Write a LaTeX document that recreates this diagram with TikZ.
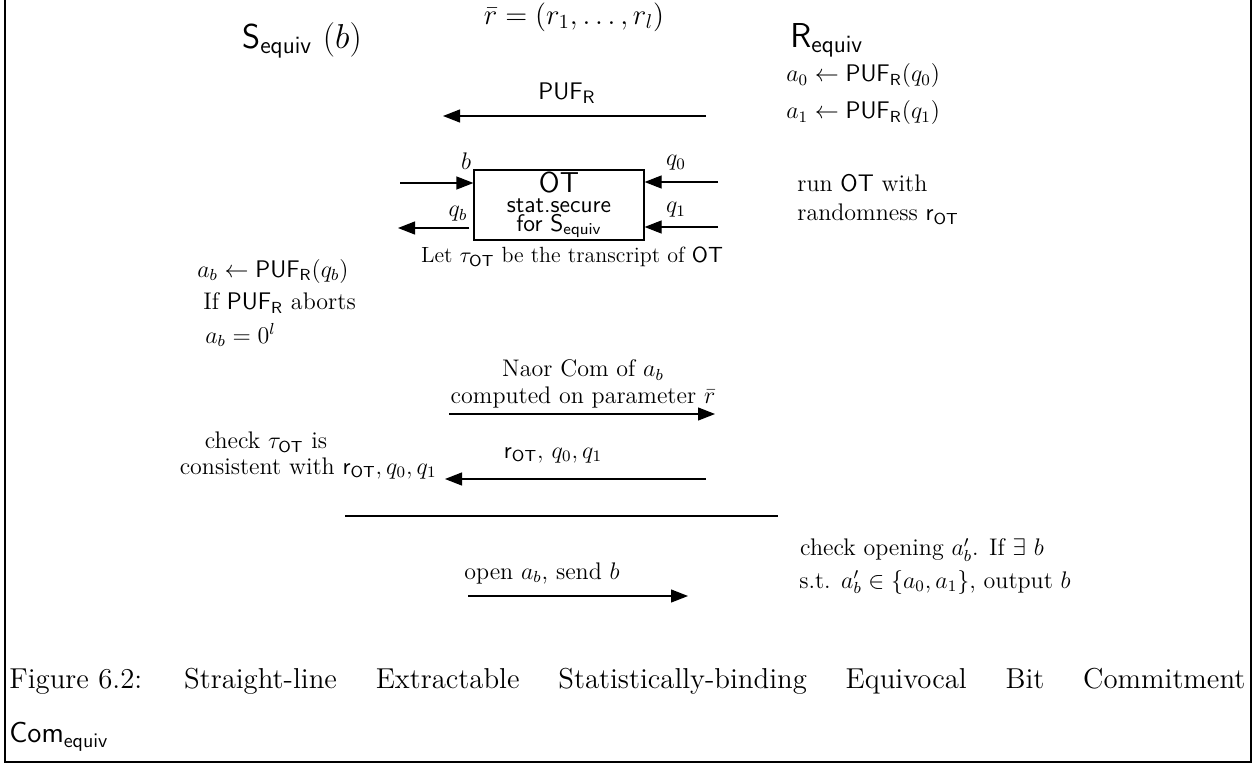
\documentclass[tikz,border=0pt,12pt]{standalone}
\usetikzlibrary{arrows.meta}
\begin{document}
\begin{tikzpicture}[x=0.5pt,y=-0.5pt,
  lbl/.style={inner sep=0pt},
  msg/.style={line width=0.6pt,-{Triangle[length=8.5pt,width=6.5pt]}},
  plain/.style={line width=0.6pt},
  frame/.style={line width=0.8pt}]
\useasboundingbox (0,0) rectangle (1257,765);
% frame
\draw[frame] (5,0) -- (5,762) -- (1251,762) -- (1251,0);
% headers
\node[lbl] (rbar) at (574,17) {\large$\bar r=(r_1,\dots,r_l)$};
\node[lbl] (S) at (302,40) {\Large$\mathsf{S}_{\mathsf{equiv}}~(b)$};
\node[lbl,anchor=west] (R) at (790,40) {\Large$\mathsf{R}_{\mathsf{equiv}}$};
\node[lbl,anchor=west] (a0) at (786,76) {$a_0 \leftarrow \mathsf{PUF}_{\mathsf{R}}(q_0)$};
\node[lbl,anchor=west] (a1) at (786,113) {$a_1 \leftarrow \mathsf{PUF}_{\mathsf{R}}(q_1)$};
% PUF arrow
\node[lbl] (puflbl) at (567,93) {\fontsize{13}{15}\selectfont$\mathsf{PUF}_{\mathsf{R}}$};
\coordinate (pufR) at (706,116);
\coordinate (pufL) at (443,116);
\draw[msg] (pufR) -- (pufL);
% OT box
\node[draw,line width=0.6pt,minimum width=85pt,minimum height=35pt,inner sep=0pt] (ot) at (559,205) {};
\node[lbl,anchor=base] (otT) at (559,192) {\large$\mathsf{OT}$};
\node[lbl,anchor=base] (otS) at (559,212) {\sffamily stat.secure};
\node[lbl,anchor=base] (otF) at (559,231) {\sffamily for $\mathsf{S}_{\mathsf{equiv}}$};
\coordinate (bin) at (400,183);
\coordinate (qbout) at (398,228);
\coordinate (q0in) at (718,182);
\coordinate (q1in) at (718,227);
\draw[msg] (bin) -- (ot.west |- bin);
\draw[msg] (ot.west |- qbout) ++(-4,0) -- (qbout);
\draw[msg] (q0in) -- (ot.east |- q0in);
\draw[msg] (q1in) -- (ot.east |- q1in);
\node[lbl] (blbl) at (466,161) {$b$};
\node[lbl] (qblbl) at (458,214) {$q_b$};
\node[lbl] (q0lbl) at (676,163) {$q_0$};
\node[lbl] (q1lbl) at (676,210) {$q_1$};
\node[lbl,anchor=west] (run1) at (797,183) {run $\mathsf{OT}$ with};
\node[lbl,anchor=west] (run2) at (797,214) {randomness $\mathsf{r}_{\mathsf{OT}}$};
\node[lbl] (tau) at (572,257) {\fontsize{11}{13}\selectfont Let $\tau_{\mathsf{OT}}$ be the transcript of $\mathsf{OT}$};
% a_b block
\node[lbl,anchor=west] (ab1) at (197,271) {$a_b \leftarrow \mathsf{PUF}_{\mathsf{R}}(q_b)$};
\node[lbl,anchor=west] (ab2) at (203,303) {If $\mathsf{PUF}_{\mathsf{R}}$ aborts};
\node[lbl,anchor=west] (ab3) at (205,335) {$a_b = 0^l$};
% Naor commitment
\node[lbl] (naor1) at (583,370) {Naor Com of $a_b$};
\node[lbl] (naor2) at (583,397) {computed on parameter $\bar r$};
\coordinate (naorL) at (449,414);
\coordinate (naorR) at (715,414);
\draw[msg] (naorL) -- (naorR);
% r_OT message
\node[lbl] (chk1) at (266,442) {check $\tau_{\mathsf{OT}}$ is};
\node[lbl,anchor=east] (chk2) at (437,468) {consistent with $\mathsf{r}_{\mathsf{OT}}, q_0, q_1$};
\node[lbl] (rotlbl) at (553,455) {$\mathsf{r}_{\mathsf{OT}},\, q_0, q_1$};
\coordinate (rotR) at (706,479);
\coordinate (rotL) at (445,479);
\draw[msg] (rotR) -- (rotL);
% separator
\coordinate (sepL) at (345,516);
\coordinate (sepR) at (778,516);
\draw[plain] (sepL) -- (sepR);
% opening
\node[lbl] (openlbl) at (542,573) {open $a_b$, send $b$};
\coordinate (openL) at (468,596);
\coordinate (openR) at (688,596);
\draw[msg] (openL) -- (openR);
\node[lbl] (chko1) at (922,550) {check opening $a'_b$. If $\exists\ b$};
\node[lbl] (chko2) at (935,582) {s.t. $a'_b \in \{a_0,a_1\}$, output $b$};
% caption
\node[lbl,anchor=west] (cap1) at (9,681) {\fontsize{14.4}{17}\selectfont\makebox[618pt][s]{Figure 6.2: \hfill Straight-line \hfill Extractable \hfill Statistically-binding \hfill Equivocal \hfill Bit \hfill Commitment}};
\node[lbl,anchor=west] (cap2) at (9,737) {\fontsize{14.4}{17}\selectfont$\mathsf{Com}_{\mathsf{equiv}}$};
\end{tikzpicture}
\end{document}
